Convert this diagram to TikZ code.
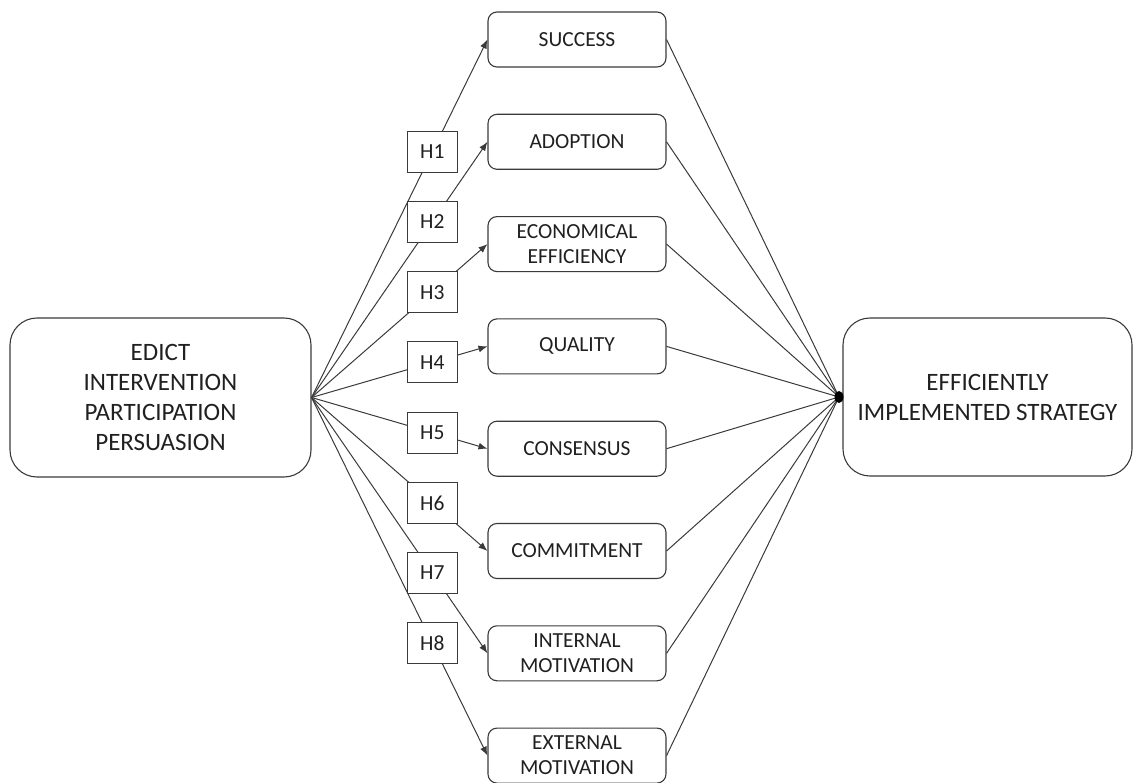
\documentclass[tikz,border=0pt]{standalone}
\usepackage{fontspec}
\setmainfont{Carlito}
\usetikzlibrary{arrows.meta}
\definecolor{edge}{HTML}{3A3A3A}
\definecolor{txt}{HTML}{202020}
\tikzset{
  bigbox/.style={draw=edge, line width=1.1pt, rounded corners=27pt, inner sep=0pt, align=center,
    text=txt, font=\fontsize{25}{30}\selectfont},
  midbox/.style={draw=edge, line width=1.1pt, rounded corners=9pt, inner sep=0pt, align=center,
    minimum width=178pt, minimum height=55pt, text=txt, font=\fontsize{21.5}{25}\selectfont},
  hbox/.style={draw=edge, line width=1.1pt, fill=white, inner sep=0pt, minimum width=50pt,
    minimum height=41pt, text=txt, font=\fontsize{21.5}{25}\selectfont},
  link/.style={draw=edge, line width=1pt},
  arr/.style={link, -{Latex[length=9pt,width=7pt]}},
}
\begin{document}
\begin{tikzpicture}[x=1pt,y=-1pt]
\useasboundingbox (0,0) rectangle (1135,783);
\node[bigbox, minimum width=301pt, minimum height=159pt] (src) at (160.5,397.5)
  {EDICT\\INTERVENTION\\PARTICIPATION\\PERSUASION};
\node[bigbox, minimum width=289pt, minimum height=158pt] (dst) at (987.5,397)
  {EFFICIENTLY\\IMPLEMENTED STRATEGY};
\coordinate (J) at (src.east);
\coordinate (R) at (839,397);
\node[midbox] (m1) at (577,39.5) {SUCCESS};
\node[midbox] (m2) at (577,141.8) {ADOPTION};
\node[midbox] (m3) at (577,244.1) {ECONOMICAL\\EFFICIENCY};
\node[midbox] (m4) at (577,346.4) {QUALITY};
\node[midbox] (m5) at (577,448.7) {CONSENSUS};
\node[midbox] (m6) at (577,551) {COMMITMENT};
\node[midbox] (m7) at (577,653.3) {INTERNAL\\MOTIVATION};
\node[midbox] (m8) at (577,755.6) {EXTERNAL\\MOTIVATION};
\foreach \i in {1,...,8} {
  \draw[arr] (J) -- (m\i.west);
  \draw[link] (m\i.east) -- (R);
}
\foreach \i in {1,...,8} {
  \path (J) -- node[hbox, pos=0.6864] (h\i) {H\i} (m\i.west);
}
\fill[black] (R) ellipse [x radius=4.5pt, y radius=6pt];
\end{tikzpicture}
\end{document}
